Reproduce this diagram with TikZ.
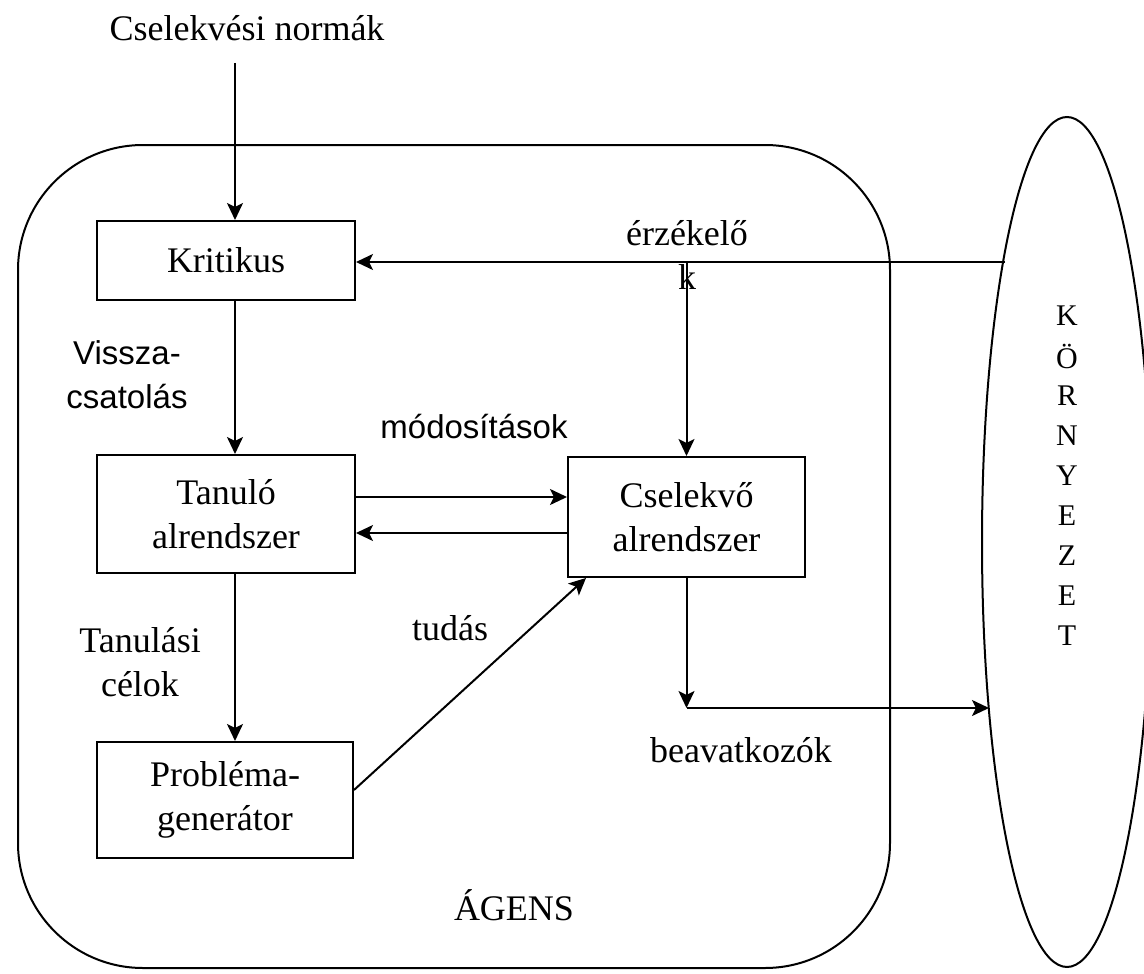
\documentclass[tikz,border=0pt]{standalone}
\usepackage{fontspec}
\setmainfont{Liberation Serif}
\setsansfont{Liberation Sans}
\usetikzlibrary{arrows.meta}
\tikzset{
  box/.style={draw, line width=2pt, inner sep=0pt, align=center,
    font=\fontsize{36}{44}\selectfont},
  lbl/.style={font=\fontsize{36}{44}\selectfont, align=center, inner sep=0pt},
  slbl/.style={font=\sffamily\fontsize{33}{44}\selectfont, align=center, inner sep=0pt},
  envtxt/.style={font=\fontsize{30}{32}\selectfont, inner sep=0pt},
  arr/.style={line width=2pt, -{Stealth[length=17pt,width=16pt,inset=4pt]}}
}
\begin{document}
\begin{tikzpicture}[x=1pt,y=-1pt]
\useasboundingbox (0,0) rectangle (1144,974);
% agent and environment
\draw[line width=2pt, rounded corners=125pt] (18,145) rectangle (890,968);
\draw[line width=2pt] (1067,542) ellipse [x radius=85, y radius=425];
\foreach \ch [count=\i] in {K,Ö,R,N,Y,E,Z,E,T}
  \node[envtxt] (env\i) at (1067,276+40*\i) {\ch};
% boxes
\node[box, minimum width=258pt, minimum height=79pt] (krit) at (226,260.5) {Kritikus};
\node[box, minimum width=258pt, minimum height=118pt] (tanulo) at (226,514) {Tanuló\\alrendszer};
\node[box, minimum width=237pt, minimum height=120pt] (cselekvo) at (686.5,517) {Cselekvő\\alrendszer};
\node[box, minimum width=256pt, minimum height=116pt] (problema) at (225,800) {Probléma-\\generátor};
% labels
\node[lbl] (normak) at (247,28) {Cselekvési normák};
\node[lbl] (erzlbl) at (687,233) {érzékelő};
\node[lbl] (erzk) at (687,277) {k};
\node[slbl] (vissza) at (127,375) {Vissza-\\csatolás};
\node[slbl] (modos) at (474,427) {módosítások};
\node[lbl] (celok) at (140,662) {Tanulási\\célok};
\node[lbl] (tudas) at (450,628) {tudás};
\node[lbl] (beavlbl) at (741,750) {beavatkozók};
\node[lbl] (agens) at (514,905) {ÁGENS};
% connectors
\coordinate (normtop) at (235,63);
\coordinate (erz) at (1005,262);
\coordinate (beav) at (686.5,708);
\coordinate (korny) at (989,708);
\draw[arr] (normtop) -- (normtop |- krit.north);
\draw[arr] (normtop |- krit.south) -- (normtop |- tanulo.north);
\draw[arr] (normtop |- tanulo.south) -- (normtop |- problema.north);
\draw[arr] (erz) -- (erz -| krit.east);
\draw[arr] (erz -| cselekvo.north) -- (cselekvo.north);
\draw[arr] ([yshift=17pt]tanulo.east) -- ([yshift=17pt]tanulo.east -| cselekvo.west);
\draw[arr] ([yshift=-16pt]cselekvo.west) -- ([yshift=-16pt]cselekvo.west -| tanulo.east);
\draw[arr] ([yshift=10pt]problema.east) -- ([xshift=19pt]cselekvo.south west);
\draw[arr] (cselekvo.south) -- (beav);
\draw[arr] (beav) -- (korny);
\end{tikzpicture}
\end{document}
